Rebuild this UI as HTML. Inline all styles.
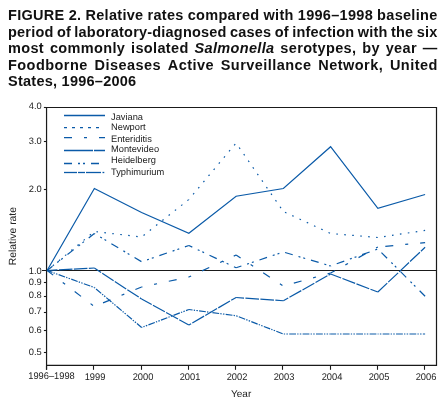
<!DOCTYPE html>
<html><head><meta charset="utf-8"><style>
html,body{margin:0;padding:0;background:#fff;width:448px;height:403px;overflow:hidden}
.tl,svg{will-change:transform}
.tl{position:absolute;left:7.9px;width:429px;font:bold 14.5px/16.6px "Liberation Sans",sans-serif;color:#111;display:flex;justify-content:space-between;white-space:nowrap}
svg{position:absolute;left:0;top:0}
.t{font-family:"Liberation Sans",sans-serif;font-size:9.3px;fill:#222;text-rendering:geometricPrecision}
.t2{font-family:"Liberation Sans",sans-serif;font-size:10px;fill:#222;text-rendering:geometricPrecision}
</style></head><body>
<div class="tl" style="top:7.00px;letter-spacing:0.3px;width:429.60px"><span>FIGURE</span><span>2.</span><span>Relative</span><span>rates</span><span>compared</span><span>with</span><span>1996–1998</span><span>baseline</span></div>
<div class="tl" style="top:23.55px;letter-spacing:0.2px;width:429.50px"><span>period</span><span>of</span><span>laboratory-diagnosed</span><span>cases</span><span>of</span><span>infection</span><span>with</span><span>the</span><span>six</span></div>
<div class="tl" style="top:40.10px;letter-spacing:0.35px;width:429.65px"><span>most</span><span>commonly</span><span>isolated</span><span><i>Salmonella</i></span><span>serotypes,</span><span>by</span><span>year</span><span>—</span></div>
<div class="tl" style="top:56.65px;letter-spacing:0.45px;width:429.75px"><span>Foodborne</span><span>Diseases</span><span>Active</span><span>Surveillance</span><span>Network,</span><span>United</span></div>
<div class="tl" style="top:73.20px;display:block;letter-spacing:0.25px">States, 1996–2006</div>
<svg width="448" height="403" viewBox="0 0 448 403">
<line x1="46" y1="107.5" x2="437" y2="107.5" stroke="#1a1a1a" stroke-width="1.1"/>
<line x1="46" y1="365.4" x2="437" y2="365.4" stroke="#1a1a1a" stroke-width="1.3"/>
<line x1="46.55" y1="107" x2="46.55" y2="369.8" stroke="#1a1a1a" stroke-width="1.2"/>
<line x1="436.5" y1="107" x2="436.5" y2="366" stroke="#1a1a1a" stroke-width="1.2"/>
<line x1="43.9" y1="107.50" x2="46.5" y2="107.50" stroke="#1a1a1a" stroke-width="1.1"/>
<line x1="43.9" y1="141.50" x2="46.5" y2="141.50" stroke="#1a1a1a" stroke-width="1.1"/>
<line x1="43.9" y1="189.50" x2="46.5" y2="189.50" stroke="#1a1a1a" stroke-width="1.1"/>
<line x1="43.9" y1="282.50" x2="46.5" y2="282.50" stroke="#1a1a1a" stroke-width="1.1"/>
<line x1="43.9" y1="296.50" x2="46.5" y2="296.50" stroke="#1a1a1a" stroke-width="1.1"/>
<line x1="43.9" y1="312.50" x2="46.5" y2="312.50" stroke="#1a1a1a" stroke-width="1.1"/>
<line x1="43.9" y1="330.50" x2="46.5" y2="330.50" stroke="#1a1a1a" stroke-width="1.1"/>
<line x1="43.9" y1="352.50" x2="46.5" y2="352.50" stroke="#1a1a1a" stroke-width="1.1"/>
<text x="41.8" y="109.20" text-anchor="end" class="t">4.0</text>
<text x="41.8" y="144.03" text-anchor="end" class="t">3.0</text>
<text x="41.8" y="191.70" text-anchor="end" class="t">2.0</text>
<text x="41.8" y="285.09" text-anchor="end" class="t">0.9</text>
<text x="41.8" y="298.44" text-anchor="end" class="t">0.8</text>
<text x="41.8" y="314.14" text-anchor="end" class="t">0.7</text>
<text x="41.8" y="332.66" text-anchor="end" class="t">0.6</text>
<text x="41.8" y="354.70" text-anchor="end" class="t">0.5</text>
<text x="41.8" y="274.20" text-anchor="end" class="t">1.0</text>
<line x1="42" y1="270.5" x2="436.5" y2="270.5" stroke="#1a1a1a" stroke-width="1.15"/>
<line x1="46.50" y1="365.5" x2="46.50" y2="369.8" stroke="#1a1a1a" stroke-width="1.1"/>
<text transform="translate(51.50 379.2) scale(1 1.04)" text-anchor="middle" class="t">1996–1998</text>
<line x1="93.50" y1="365.5" x2="93.50" y2="369.8" stroke="#1a1a1a" stroke-width="1.1"/>
<text transform="translate(95.00 380.0) scale(1 1.04)" text-anchor="middle" class="t">1999</text>
<line x1="141.50" y1="365.5" x2="141.50" y2="369.8" stroke="#1a1a1a" stroke-width="1.1"/>
<text transform="translate(143.00 380.0) scale(1 1.04)" text-anchor="middle" class="t">2000</text>
<line x1="188.50" y1="365.5" x2="188.50" y2="369.8" stroke="#1a1a1a" stroke-width="1.1"/>
<text transform="translate(190.00 380.0) scale(1 1.04)" text-anchor="middle" class="t">2001</text>
<line x1="235.50" y1="365.5" x2="235.50" y2="369.8" stroke="#1a1a1a" stroke-width="1.1"/>
<text transform="translate(237.00 380.0) scale(1 1.04)" text-anchor="middle" class="t">2002</text>
<line x1="282.50" y1="365.5" x2="282.50" y2="369.8" stroke="#1a1a1a" stroke-width="1.1"/>
<text transform="translate(284.00 380.0) scale(1 1.04)" text-anchor="middle" class="t">2003</text>
<line x1="330.50" y1="365.5" x2="330.50" y2="369.8" stroke="#1a1a1a" stroke-width="1.1"/>
<text transform="translate(332.00 380.0) scale(1 1.04)" text-anchor="middle" class="t">2004</text>
<line x1="377.50" y1="365.5" x2="377.50" y2="369.8" stroke="#1a1a1a" stroke-width="1.1"/>
<text transform="translate(379.00 380.0) scale(1 1.04)" text-anchor="middle" class="t">2005</text>
<line x1="424.50" y1="365.5" x2="424.50" y2="369.8" stroke="#1a1a1a" stroke-width="1.1"/>
<text transform="translate(426.00 380.0) scale(1 1.04)" text-anchor="middle" class="t">2006</text>
<polyline points="47.10,270.50 94.35,188.50 141.60,212.50 188.85,233.25 236.10,196.25 283.35,188.50 330.60,146.75 377.85,208.40 425.10,194.50" fill="none" stroke="#0a5aa8" stroke-width="1.2" stroke-linejoin="miter"/>
<line x1="47.10" y1="270.50" x2="94.35" y2="231.50" stroke="#0a5aa8" stroke-width="1.2" stroke-dasharray="1.6 6.4" stroke-dashoffset="0.69"/>
<line x1="94.35" y1="231.50" x2="141.60" y2="237.00" stroke="#0a5aa8" stroke-width="1.2" stroke-dasharray="1.6 6.4" stroke-dashoffset="5.95"/>
<line x1="141.60" y1="237.00" x2="188.85" y2="199.50" stroke="#0a5aa8" stroke-width="1.2" stroke-dasharray="1.6 6.4" stroke-dashoffset="5.52"/>
<line x1="188.85" y1="199.50" x2="236.10" y2="143.00" stroke="#0a5aa8" stroke-width="1.2" stroke-dasharray="1.6 6.4" stroke-dashoffset="1.34"/>
<line x1="236.10" y1="143.00" x2="283.35" y2="211.50" stroke="#0a5aa8" stroke-width="1.2" stroke-dasharray="1.6 6.4" stroke-dashoffset="2.56"/>
<line x1="283.35" y1="211.50" x2="330.60" y2="233.50" stroke="#0a5aa8" stroke-width="1.2" stroke-dasharray="1.6 6.4" stroke-dashoffset="6.18"/>
<line x1="330.60" y1="233.50" x2="377.85" y2="237.50" stroke="#0a5aa8" stroke-width="1.2" stroke-dasharray="1.6 6.4" stroke-dashoffset="2.30"/>
<line x1="377.85" y1="237.50" x2="425.10" y2="230.40" stroke="#0a5aa8" stroke-width="1.2" stroke-dasharray="1.6 6.4" stroke-dashoffset="1.72"/>
<line x1="47.10" y1="270.50" x2="94.35" y2="306.50" stroke="#0a5aa8" stroke-width="1.2" stroke-dasharray="8 12 3 12" stroke-dashoffset="0.34"/>
<line x1="94.35" y1="306.50" x2="141.60" y2="287.00" stroke="#0a5aa8" stroke-width="1.2" stroke-dasharray="8 12 3 12" stroke-dashoffset="25.61"/>
<line x1="141.60" y1="287.00" x2="188.85" y2="277.00" stroke="#0a5aa8" stroke-width="1.2" stroke-dasharray="8 12 3 12" stroke-dashoffset="7.20"/>
<line x1="188.85" y1="277.00" x2="236.10" y2="255.00" stroke="#0a5aa8" stroke-width="1.2" stroke-dasharray="8 12 3 12" stroke-dashoffset="20.49"/>
<line x1="236.10" y1="255.00" x2="283.35" y2="286.00" stroke="#0a5aa8" stroke-width="1.2" stroke-dasharray="8 12 3 12" stroke-dashoffset="2.61"/>
<line x1="283.35" y1="286.00" x2="330.60" y2="273.00" stroke="#0a5aa8" stroke-width="1.2" stroke-dasharray="8 12 3 12" stroke-dashoffset="24.13"/>
<line x1="330.60" y1="273.00" x2="377.85" y2="247.00" stroke="#0a5aa8" stroke-width="1.2" stroke-dasharray="8 12 3 12" stroke-dashoffset="3.13"/>
<line x1="377.85" y1="247.00" x2="425.10" y2="242.60" stroke="#0a5aa8" stroke-width="1.2" stroke-dasharray="8 12 3 12" stroke-dashoffset="27.51"/>
<line x1="47.10" y1="270.50" x2="94.35" y2="268.00" stroke="#0a5aa8" stroke-width="1.2" stroke-dasharray="13.6 1.4" stroke-dashoffset="3.22"/>
<line x1="94.35" y1="268.00" x2="141.60" y2="299.00" stroke="#0a5aa8" stroke-width="1.2" stroke-dasharray="13.6 1.4" stroke-dashoffset="5.54"/>
<line x1="141.60" y1="299.00" x2="188.85" y2="325.00" stroke="#0a5aa8" stroke-width="1.2" stroke-dasharray="13.6 1.4" stroke-dashoffset="2.05"/>
<line x1="188.85" y1="325.00" x2="236.10" y2="297.50" stroke="#0a5aa8" stroke-width="1.2" stroke-dasharray="13.6 1.4" stroke-dashoffset="10.98"/>
<line x1="236.10" y1="297.50" x2="283.35" y2="300.75" stroke="#0a5aa8" stroke-width="1.2" stroke-dasharray="13.6 1.4" stroke-dashoffset="5.65"/>
<line x1="283.35" y1="300.75" x2="330.60" y2="274.00" stroke="#0a5aa8" stroke-width="1.2" stroke-dasharray="13.6 1.4" stroke-dashoffset="8.01"/>
<line x1="330.60" y1="274.00" x2="377.85" y2="292.00" stroke="#0a5aa8" stroke-width="1.2" stroke-dasharray="13.6 1.4" stroke-dashoffset="2.31"/>
<line x1="377.85" y1="292.00" x2="425.10" y2="247.30" stroke="#0a5aa8" stroke-width="1.2" stroke-dasharray="13.6 1.4" stroke-dashoffset="0.68"/>
<line x1="47.10" y1="270.50" x2="94.35" y2="233.50" stroke="#0a5aa8" stroke-width="1.2" stroke-dasharray="8 6 2 3 2 6" stroke-dashoffset="1.15"/>
<line x1="94.35" y1="233.50" x2="141.60" y2="261.75" stroke="#0a5aa8" stroke-width="1.2" stroke-dasharray="8 6 2 3 2 6" stroke-dashoffset="7.17"/>
<line x1="141.60" y1="261.75" x2="188.85" y2="245.50" stroke="#0a5aa8" stroke-width="1.2" stroke-dasharray="8 6 2 3 2 6" stroke-dashoffset="8.22"/>
<line x1="188.85" y1="245.50" x2="236.10" y2="267.75" stroke="#0a5aa8" stroke-width="1.2" stroke-dasharray="8 6 2 3 2 6" stroke-dashoffset="4.18"/>
<line x1="236.10" y1="267.75" x2="283.35" y2="252.00" stroke="#0a5aa8" stroke-width="1.2" stroke-dasharray="8 6 2 3 2 6" stroke-dashoffset="2.41"/>
<line x1="283.35" y1="252.00" x2="330.60" y2="266.00" stroke="#0a5aa8" stroke-width="1.2" stroke-dasharray="8 6 2 3 2 6" stroke-dashoffset="25.22"/>
<line x1="330.60" y1="266.00" x2="377.85" y2="249.00" stroke="#0a5aa8" stroke-width="1.2" stroke-dasharray="8 6 2 3 2 6" stroke-dashoffset="20.50"/>
<line x1="377.85" y1="249.00" x2="425.10" y2="296.25" stroke="#0a5aa8" stroke-width="1.2" stroke-dasharray="8 6 2 3 2 6" stroke-dashoffset="21.91"/>
<line x1="47.10" y1="270.50" x2="94.35" y2="287.50" stroke="#0a5aa8" stroke-width="1.2" stroke-dasharray="6.8 1.2 1.3 1.3 1.5 1.3" stroke-dashoffset="1.15"/>
<line x1="94.35" y1="287.50" x2="141.60" y2="327.50" stroke="#0a5aa8" stroke-width="1.2" stroke-dasharray="6.8 1.2 1.3 1.3 1.5 1.3" stroke-dashoffset="11.17"/>
<line x1="141.60" y1="327.50" x2="188.85" y2="309.50" stroke="#0a5aa8" stroke-width="1.2" stroke-dasharray="6.8 1.2 1.3 1.3 1.5 1.3" stroke-dashoffset="6.07"/>
<line x1="188.85" y1="309.50" x2="236.10" y2="315.75" stroke="#0a5aa8" stroke-width="1.2" stroke-dasharray="6.8 1.2 1.3 1.3 1.5 1.3" stroke-dashoffset="3.04"/>
<line x1="236.10" y1="315.75" x2="283.35" y2="334.00" stroke="#0a5aa8" stroke-width="1.2" stroke-dasharray="6.8 1.2 1.3 1.3 1.5 1.3" stroke-dashoffset="10.50"/>
<line x1="283.35" y1="334.00" x2="330.60" y2="334.00" stroke="#0a5aa8" stroke-width="1.2" stroke-dasharray="6.8 1.2 1.3 1.3 1.5 1.3" stroke-dashoffset="7.55"/>
<line x1="330.60" y1="334.00" x2="377.85" y2="334.00" stroke="#0a5aa8" stroke-width="1.2" stroke-dasharray="6.8 1.2 1.3 1.3 1.5 1.3" stroke-dashoffset="1.20"/>
<line x1="377.85" y1="334.00" x2="425.10" y2="334.00" stroke="#0a5aa8" stroke-width="1.2" stroke-dasharray="6.8 1.2 1.3 1.3 1.5 1.3" stroke-dashoffset="8.60"/>
<line x1="64" y1="115.5" x2="105" y2="115.5" stroke="#0a5aa8" stroke-width="1.3"/>
<text x="111" y="120" class="t">Javiana</text>
<line x1="64" y1="127.6" x2="99" y2="127.6" stroke="#0a5aa8" stroke-width="1.3" stroke-dasharray="3 5"/>
<text x="111" y="130" class="t">Newport</text>
<line x1="64" y1="137.6" x2="105" y2="137.6" stroke="#0a5aa8" stroke-width="1.3" stroke-dasharray="8 12 3 12"/>
<text x="111" y="141.5" class="t">Enteriditis</text>
<line x1="64" y1="150.5" x2="105" y2="150.5" stroke="#0a5aa8" stroke-width="1.3" stroke-dasharray="29 1"/>
<text x="111" y="152.2" class="t">Montevideo</text>
<line x1="64" y1="163.5" x2="105" y2="163.5" stroke="#0a5aa8" stroke-width="1.3" stroke-dasharray="8 6 2 3 2 6"/>
<text x="111" y="163" class="t">Heidelberg</text>
<line x1="64" y1="172.5" x2="77" y2="172.5" stroke="#0a5aa8" stroke-width="1.3"/>
<line x1="78" y1="172.5" x2="85" y2="172.5" stroke="#0a5aa8" stroke-width="1.3"/>
<line x1="86" y1="172.5" x2="101" y2="172.5" stroke="#0a5aa8" stroke-width="1.3"/>
<line x1="102.5" y1="172.5" x2="104.3" y2="172.5" stroke="#0a5aa8" stroke-width="1.3"/>
<text x="111" y="174.6" class="t">Typhimurium</text>
<text x="0" y="0" transform="translate(16.1 265.3) rotate(-90)" class="t2" style="font-size:10.4px">Relative rate</text>
<text x="231" y="396.9" class="t2">Year</text>
</svg>
</body></html>
